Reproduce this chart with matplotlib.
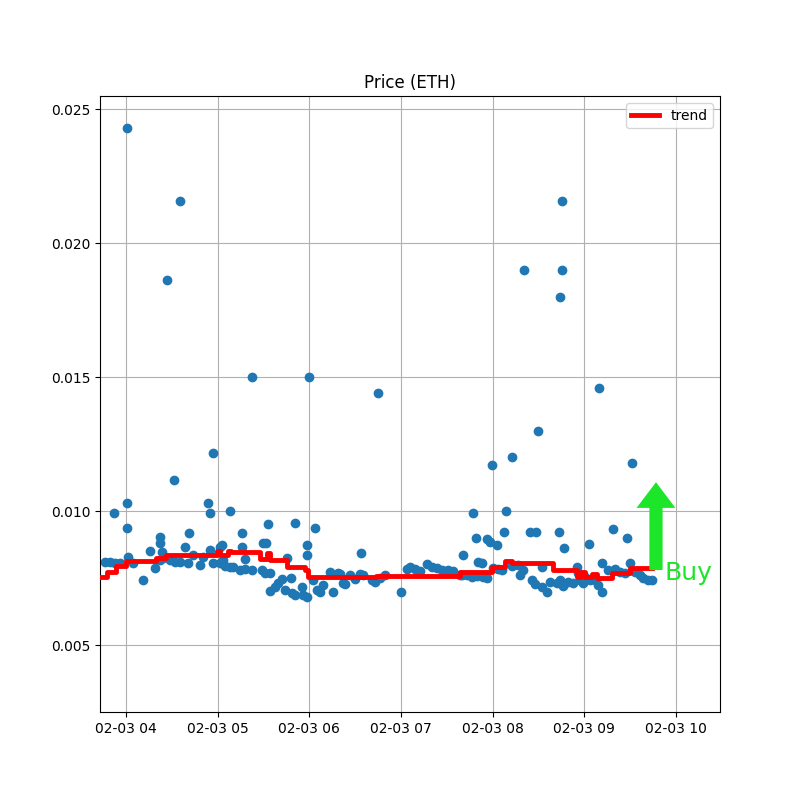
import matplotlib
matplotlib.use("Agg")
import matplotlib.pyplot as plt
import matplotlib.dates as mdates
import pandas as pd

BASE = pd.Timestamp("2022-02-03 04:00")

# scatter data: minutes after 04:00, price
minutes = [
    0.7, 35.3, 26.8, 82.5, 119.8, 164.9, 260.5, 285.4, 285.4, 284.1, 309.6, 269.7, 331.2,
    252.6, 239.5, 56.9, 31.4, 0.7, -7.9, 0.7, 53.7, 55.0, 68.1, 41.2, 92.9, 110.6, 123.7,
    118.5, 118.5, 75.9, 62.8, 89.7, 91.6, 227.1, 248.7, 229.1, 236.3, 238.2, 242.8, 247.4,
    264.4, 268.3, 283.4, 286.7, 303.0, 318.7, 327.9, 220.6, 153.8, 180.0, 11.1, 1.3,
    -13.7, -10.5, -7.2, -3.9, 4.6, 15.7, 19.0, 22.3, 22.3, 23.6, 22.3, 24.2, 28.8, 32.1,
    35.3, 38.6, 40.6, 43.9, 48.4, 50.4, 55.0, 56.9, 61.5, 63.5,
    75.9, 77.9, 105.4, 61.5, 64.8, 68.1, 70.0, 74.6, 77.9, 82.5, 89.0, 91.0, 94.2, 102.1,
    99.5, 108.0, 94.2, 97.5, 104.1, 108.6, 110.6, 115.2, 115.8, 118.5, 122.4, 125.0, 127.0,
    128.9, 133.5, 135.5, 138.8, 142.0,
    140.1, 143.3, 146.6, 149.9, 153.2, 155.1, 161.0, 163.0, 166.2, 169.5, 183.9, 185.9,
    189.2, 192.4, 197.0, 200.3, 203.5, 206.8, 210.7, 214.0, 219.9,
    230.4, 233.0, 218.6, 223.2, 226.5, 229.7, 233.7, 236.3, 240.2, 243.5, 246.1, 252.6,
    256.6, 259.8, 257.9, 265.7, 267.7, 272.3, 272.3, 275.5, 277.5, 282.1, 284.1, 286.0,
    289.3, 292.6, 295.2, 297.1, 299.1,
    295.8, 300.4, 303.7, 307.0, 308.9, 311.5, 311.5, 315.5, 320.1, 323.3, 326.6, 329.9,
    333.1, 336.4, 338.4, 341.7, 344.3,
]
prices = [
    0.02429, 0.02157, 0.01862, 0.01500, 0.01500, 0.01440, 0.01899, 0.02157, 0.01899, 0.01798,
    0.01459, 0.01298, 0.01179, 0.01201, 0.01172, 0.01216, 0.01116, 0.01030, 0.00993, 0.00937,
    0.01030, 0.00993, 0.01000, 0.00918, 0.00951, 0.00955, 0.00937, 0.00873, 0.00836, 0.00918,
    0.00873, 0.00881, 0.00881, 0.00993, 0.01000, 0.00899, 0.00896, 0.00884, 0.00873, 0.00922,
    0.00922, 0.00922, 0.00922, 0.00862, 0.00877, 0.00933, 0.00899, 0.00836, 0.00843, 0.00698,
    0.00743, 0.00828,
    0.00810, 0.00810, 0.00806, 0.00806, 0.00806, 0.00851, 0.00787, 0.00903, 0.00881, 0.00847,
    0.00817, 0.00825, 0.00817, 0.00810, 0.00810, 0.00866, 0.00806, 0.00836, 0.00799, 0.00828,
    0.00854, 0.00806, 0.00866, 0.00817,
    0.00866, 0.00821, 0.00825, 0.00806, 0.00795, 0.00791, 0.00791, 0.00780, 0.00784, 0.00780,
    0.00780, 0.00769, 0.00769, 0.00746, 0.00731, 0.00750, 0.00702, 0.00716, 0.00705, 0.00694,
    0.00687, 0.00716, 0.00687, 0.00679, 0.00743, 0.00705, 0.00698, 0.00724, 0.00772, 0.00698,
    0.00769, 0.00731,
    0.00765, 0.00728, 0.00761, 0.00746, 0.00765, 0.00761, 0.00743, 0.00735, 0.00750, 0.00761,
    0.00784, 0.00791, 0.00784, 0.00776, 0.00802, 0.00791, 0.00787, 0.00780, 0.00780, 0.00776,
    0.00761,
    0.00810, 0.00806, 0.00761, 0.00761, 0.00754, 0.00757, 0.00754, 0.00750, 0.00787, 0.00784,
    0.00780, 0.00795, 0.00799, 0.00780, 0.00761, 0.00743, 0.00728, 0.00791, 0.00716, 0.00698,
    0.00735, 0.00731, 0.00743, 0.00720, 0.00735, 0.00731, 0.00791, 0.00743, 0.00731,
    0.00769, 0.00754, 0.00743, 0.00743, 0.00724, 0.00806, 0.00698, 0.00780, 0.00784, 0.00772,
    0.00769, 0.00806, 0.00772, 0.00761, 0.00750, 0.00743, 0.00743,
]

# trend (step) data: minutes after 04:00, value
trend_minutes = [-17.0, -12.4, -6.5, 0.0, 19.6, 26.2, 59.6, 61.5, 66.8, 68.7, 87.7, 92.3,
                 94.2, 105.4, 117.2, 119.1, 163.6, 218.6, 239.5, 248.1, 252.6, 279.5, 295.2,
                 297.8, 300.4, 305.0, 308.3, 318.1, 329.9, 344.3]
trend_values = [0.00754, 0.00772, 0.00795, 0.00813, 0.00825, 0.00836, 0.00851, 0.00836,
                0.00851, 0.00847, 0.00821, 0.00843, 0.00817, 0.00791, 0.00780, 0.00754,
                0.00757, 0.00774, 0.00791, 0.00815, 0.00806, 0.00780, 0.00754, 0.00772,
                0.00754, 0.00765, 0.00750, 0.00769, 0.00787, 0.00787]

signal_minute = 346.9
signal_from = 0.0078
signal_to = 0.01108
signal_label = "Buy"
GREEN = "#1de62a"

def to_time(ms):
    return [BASE + pd.Timedelta(minutes=m) for m in ms]

fig, ax = plt.subplots(figsize=(8, 8), dpi=100)
ax.scatter(to_time(minutes), prices, color="#1f77b4", s=36, zorder=2)
ax.plot(to_time(trend_minutes), trend_values, color="red", lw=3.5,
        drawstyle="steps-post", label="trend", zorder=3)

t_sig = BASE + pd.Timedelta(minutes=signal_minute)
ax.annotate("", xy=(t_sig, signal_to), xytext=(t_sig, signal_from),
            arrowprops=dict(facecolor=GREEN, edgecolor="none", width=9.5,
                            headwidth=28, headlength=18.5, shrink=0), zorder=4)
ax.text(BASE + pd.Timedelta(minutes=352.8), 0.007426, signal_label, color=GREEN,
        fontsize=18, va="baseline", ha="left")

ax.set_xlim(BASE + pd.Timedelta(minutes=-17.0), BASE + pd.Timedelta(minutes=388.8))
ax.set_ylim(0.0025, 0.0255)
ax.xaxis.set_major_locator(mdates.HourLocator())
ax.xaxis.set_major_formatter(mdates.DateFormatter("%m-%d %H"))
ax.grid(True)
ax.set_title("Price (ETH)")
ax.legend(loc="upper right")
fig.savefig("out.png", dpi=100)
